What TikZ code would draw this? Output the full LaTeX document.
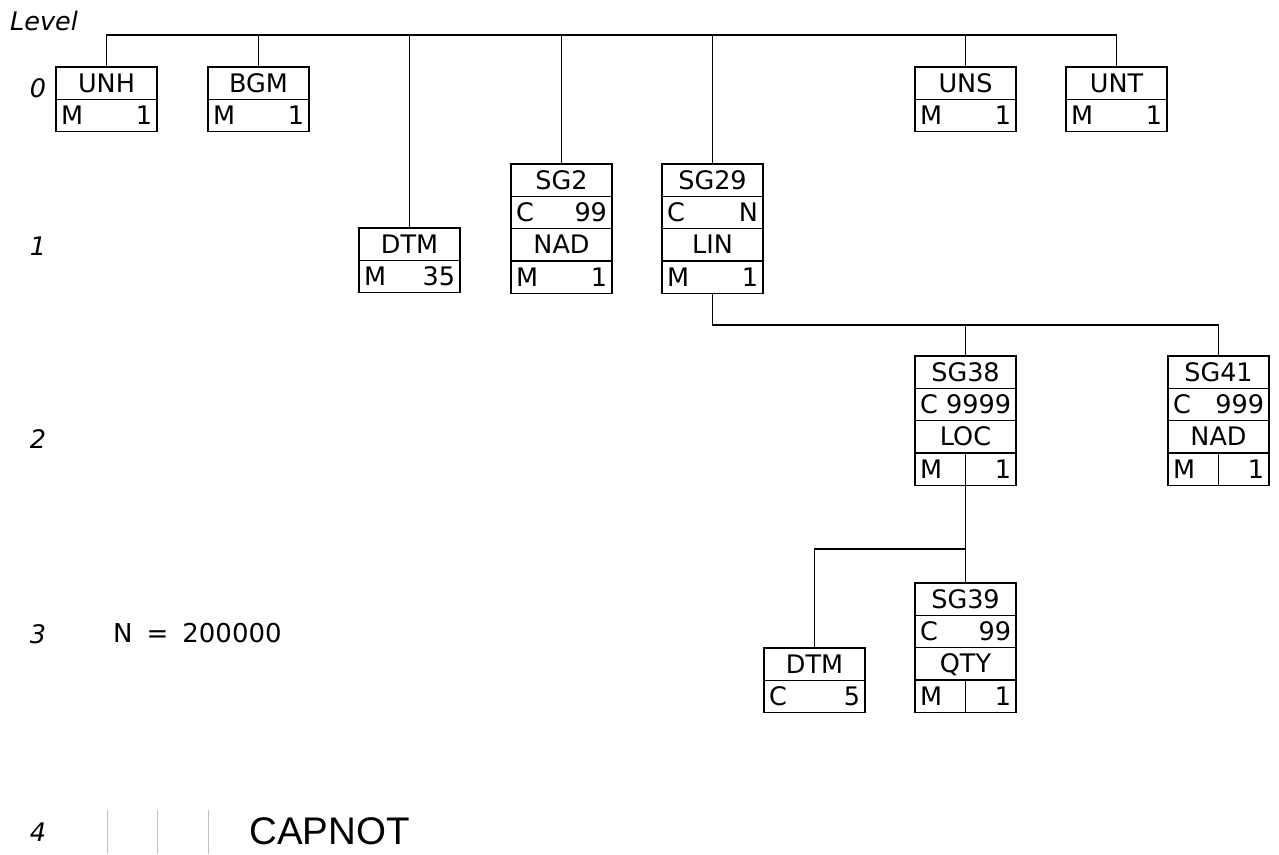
\documentclass[tikz,border=0pt]{standalone}
\usepackage{fontspec}
\setmainfont{DejaVu Sans}
\newfontfamily\arialf{Liberation Sans}
\begin{document}
\begin{tikzpicture}[x=1pt,y=-1pt,
  cell/.style={draw, line width=1.3pt, minimum width=101pt, minimum height=32.3pt,
    inner sep=0pt, outer sep=0pt, anchor=north, text height=22pt, text depth=4pt,
    font=\fontsize{25.5}{25.5}\selectfont},
  lvl/.style={font=\fontsize{25.5}{25.5}\selectfont\itshape, inner sep=0pt},
  conn/.style={line width=1.3pt},
  grayline/.style={draw=black!25, line width=1pt}]
\useasboundingbox (0,0) rectangle (1279,854);
\newcommand{\mrow}[2]{\makebox[91pt]{#1\hfill#2}}
% level labels
\node[lvl, anchor=west] (lvlhead) at (10,21) {Level};
\node[lvl] (l0) at (38,88) {0};
\node[lvl] (l1) at (38,246) {1};
\node[lvl] (l2) at (38,439) {2};
\node[lvl] (l3) at (38,634) {3};
\node[lvl] (l4) at (38,832) {4};
\node[font=\fontsize{26}{26}\selectfont, inner sep=0pt, anchor=west] (nval) at (113,633) {N\hspace{14pt}=\hspace{14pt}200000};
% level 0
\node[cell] (unh) at (106.5,67) {UNH};
\node[cell] (unh-s) at (unh.south) {\mrow{M}{1}};
\node[cell] (bgm) at (258.5,67) {BGM};
\node[cell] (bgm-s) at (bgm.south) {\mrow{M}{1}};
\node[cell] (uns) at (965.5,67) {UNS};
\node[cell] (uns-s) at (uns.south) {\mrow{M}{1}};
\node[cell] (unt) at (1116.5,67) {UNT};
\node[cell] (unt-s) at (unt.south) {\mrow{M}{1}};
% level 1
\node[cell] (dtm1) at (409.5,228) {DTM};
\node[cell] (dtm1-s) at (dtm1.south) {\mrow{M}{35}};
\node[cell] (sg2) at (561.5,164) {SG2};
\node[cell] (sg2-s) at (sg2.south) {\mrow{C}{99}};
\node[cell] (nad1) at (sg2-s.south) {NAD};
\node[cell] (nad1-s) at (nad1.south) {\mrow{M}{1}};
\node[cell] (sg29) at (712.5,164) {SG29};
\node[cell] (sg29-s) at (sg29.south) {\mrow{C}{N}};
\node[cell] (lin) at (sg29-s.south) {LIN};
\node[cell] (lin-s) at (lin.south) {\mrow{M}{1}};
% level 2
\node[cell] (sg38) at (965.5,356) {SG38};
\node[cell] (sg38-s) at (sg38.south) {\mrow{C}{9999}};
\node[cell] (loc) at (sg38-s.south) {LOC};
\node[cell] (loc-s) at (loc.south) {\mrow{M}{1}};
\draw[conn] (loc-s.north) -- (loc-s.south);
\node[cell] (sg41) at (1218.5,356) {SG41};
\node[cell] (sg41-s) at (sg41.south) {\mrow{C}{999}};
\node[cell] (nad2) at (sg41-s.south) {NAD};
\node[cell] (nad2-s) at (nad2.south) {\mrow{M}{1}};
\draw[conn] (nad2-s.north) -- (nad2-s.south);
% level 3
\node[cell] (dtm3) at (814.5,648) {DTM};
\node[cell] (dtm3-s) at (dtm3.south) {\mrow{C}{5}};
\node[cell] (sg39) at (965.5,583) {SG39};
\node[cell] (sg39-s) at (sg39.south) {\mrow{C}{99}};
\node[cell] (qty) at (sg39-s.south) {QTY};
\node[cell] (qty-s) at (qty.south) {\mrow{M}{1}};
\draw[conn] (qty-s.north) -- (qty-s.south);
% connectors
\coordinate (bus0) at (0,35);
\coordinate (bus1) at (0,325);
\coordinate (bus2) at (0,549);
\draw[conn] (unh.north) |- (bus0 -| unt.north) -- (unt.north);
\foreach \n in {bgm,dtm1,sg2,sg29,uns} \draw[conn] (\n.north) -- (\n.north |- bus0);
\draw[conn] (lin-s.south) |- (bus1 -| sg41.north) -- (sg41.north);
\draw[conn] (sg38.north) -- (sg38.north |- bus1);
\draw[conn] (loc-s.south) -- (sg39.north);
\draw[conn] (loc-s.south |- bus2) -| (dtm3.north);
% level 4
\coordinate (g1t) at (107,810); \coordinate (g1b) at (107,854);
\coordinate (g2t) at (157,810); \coordinate (g2b) at (157,854);
\coordinate (g3t) at (208,810); \coordinate (g3b) at (208,854);
\draw[grayline] (g1t) -- (g1b);
\draw[grayline] (g2t) -- (g2b);
\draw[grayline] (g3t) -- (g3b);
\node[font=\arialf\fontsize{38.5}{38.5}\selectfont, inner sep=0pt, anchor=west] (capnot) at (249,831) {CAPNOT};
\end{tikzpicture}
\end{document}
